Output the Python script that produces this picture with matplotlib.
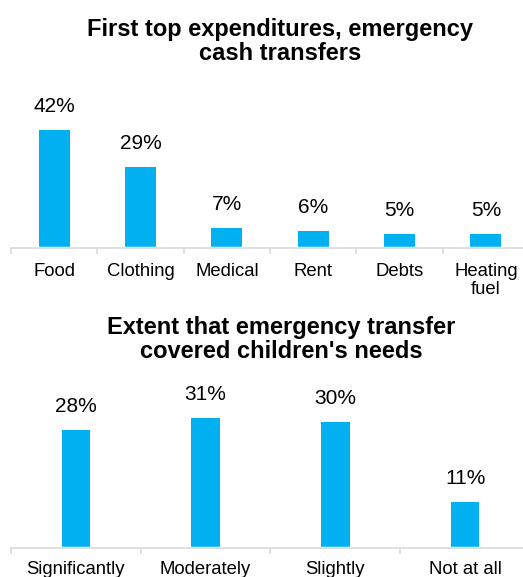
import matplotlib
matplotlib.use("Agg")
import matplotlib.pyplot as plt
import numpy as np

plt.rcParams["font.family"] = ["Liberation Sans", "DejaVu Sans"]

# data
top_cats = ["Food", "Clothing", "Medical", "Rent", "Debts", "Heating\nfuel"]
top_vals = [42, 29, 7, 6, 5, 5]
bot_cats = ["Significantly", "Moderately", "Slightly", "Not at all"]
bot_vals = [28, 31, 30, 11]

top_title = "First top expenditures, emergency\ncash transfers"
bot_title = "Extent that emergency transfer\ncovered children's needs"

BAR_COLOR = "#00B0F0"
AXIS_COLOR = "#D9D9D9"
W, H = 523, 577

fig = plt.figure(figsize=(W / 100, H / 100), dpi=100)


def px_axes(left, right, top, bottom):
    # pixel box (from top-left) -> figure fraction
    return fig.add_axes([left / W, 1 - bottom / H, (right - left) / W, (bottom - top) / H])


def draw_panel(ax, cats, vals, ymax, width, pad):
    x = np.arange(len(cats))
    bars = ax.bar(x, vals, width=width, color=BAR_COLOR, zorder=2)
    # small white gap between bars and the axis line
    ax.axhline(0, color="white", linewidth=2.5, zorder=2.5)
    for b, v in zip(bars, vals):
        ax.annotate(f"{v}%", (b.get_x() + b.get_width() / 2, v),
                    xytext=(0, 13), textcoords="offset points",
                    ha="center", va="baseline", fontsize=15, color="#000000")
    ax.set_xlim(-0.5, len(cats) - 0.5)
    ax.set_ylim(0, ymax)
    for s in ["top", "right", "left"]:
        ax.spines[s].set_visible(False)
    ax.spines["bottom"].set_color(AXIS_COLOR)
    ax.spines["bottom"].set_linewidth(1.2)
    ax.spines["bottom"].set_zorder(3)
    ax.set_yticks([])
    ax.set_xticks(x)
    ax.set_xticklabels(cats, fontsize=13.3, linespacing=1.12)
    ax.set_xticks(np.arange(len(cats) + 1) - 0.5, minor=True)
    ax.tick_params(axis="x", which="major", length=0, pad=pad)
    ax.tick_params(axis="x", which="minor", length=4, width=1.2, color=AXIS_COLOR)


ax1 = px_axes(11, 529, 108, 248)
draw_panel(ax1, top_cats, top_vals, 50, 0.36, 10.5)

ax2 = px_axes(11, 530, 380, 548)
draw_panel(ax2, bot_cats, bot_vals, 40, 0.22, 9.5)

fig.text(280 / W, 1 - 18 / H, top_title, ha="center", va="top",
         fontsize=17, fontweight="bold", linespacing=1.08)
fig.text(281 / W, 1 - 316 / H, bot_title, ha="center", va="top",
         fontsize=17, fontweight="bold", linespacing=1.08)

fig.savefig("out.png", dpi=100)
